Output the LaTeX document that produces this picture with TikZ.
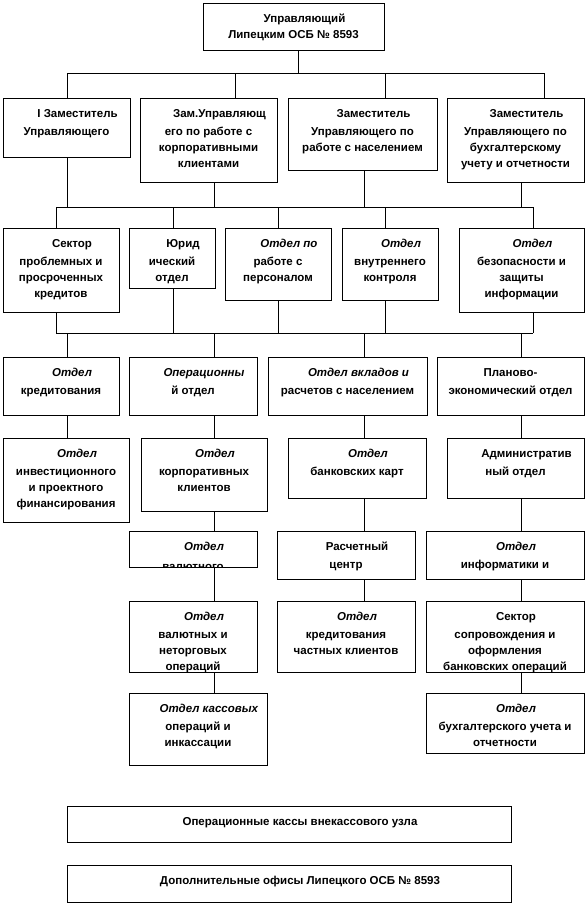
\documentclass[tikz,border=0pt]{standalone}
\usepackage{fontspec}
\setmainfont{Liberation Sans}
\usetikzlibrary{calc}
\tikzset{
  orgbox/.style={draw, line width=0.9pt, anchor=north west, inner sep=0pt, outer sep=0pt},
  orgtxt/.style={inner sep=0pt, anchor=north, align=center, font=\fontsize{11.5}{16}\selectfont\bfseries},
  link/.style={line width=0.9pt},
}
\newcommand{\fli}{\hspace*{22pt}}
\newcommand{\obox}[6]{%
  \node[orgbox, minimum width={#4-#2}, minimum height={#5-#3}] (#1) at (#2,#3) {};
  \begin{scope}
    \clip (#1.south west) rectangle (#1.north east);
    \node[orgtxt] (#1t) at ([yshift=-11pt]#1.north) {#6};
  \end{scope}}
\begin{document}
\begin{tikzpicture}[x=1pt,y=-1pt]
\useasboundingbox (0,0) rectangle (587,905);
% level 1
\obox{T}{203}{3}{384}{50}{\fli Управляющий\\Липецким ОСБ № 8593}
% level 2
\obox{A1}{3}{98}{130}{157}{\fli I Заместитель\\[2pt]Управляющего}
\obox{A2}{140}{98}{277}{182}{\fli Зам.Управляющ\\[2pt]его по работе с\\корпоративными\\клиентами}
\obox{A3}{288}{98}{437}{170}{\fli Заместитель\\[2pt]Управляющего по\\работе с населением}
\obox{A4}{447}{98}{584}{182}{\fli Заместитель\\[2pt]Управляющего по\\бухгалтерскому\\учету и отчетности}
% level 3
\obox{B1}{3}{228}{119}{312}{\fli Сектор\\[2pt]проблемных и\\просроченных\\кредитов}
\obox{B2}{129}{228}{215}{288}{\fli Юрид\\[2pt]ический\\отдел}
\obox{B3}{225}{228}{331}{300}{\fli\textit{Отдел по}\\[2pt]работе с\\персоналом}
\obox{B4}{342}{228}{438}{300}{\fli\textit{Отдел}\\[2pt]внутреннего\\контроля}
\obox{B5}{459}{228}{584}{312}{\fli\textit{Отдел}\\[2pt]безопасности и\\защиты\\информации}
% level 4
\obox{C1}{3}{357}{119}{415}{\fli\textit{Отдел}\\[2pt]кредитования}
\obox{C2}{129}{357}{257}{415}{\fli\textit{Операционны}\\[2pt]й отдел}
\obox{C3}{268}{357}{427}{415}{\fli\textit{Отдел вкладов и}\\[2pt]расчетов с населением}
\obox{C4}{437}{357}{584}{415}{Планово-\\[2pt]экономический отдел}
% level 5
\obox{D1}{3}{438}{129}{522}{\fli\textit{Отдел}\\[2pt]инвестиционного\\и проектного\\финансирования}
\obox{D2}{141}{438}{267}{511}{\fli\textit{Отдел}\\[2pt]корпоративных\\клиентов}
\obox{D3}{288}{438}{426}{498}{\fli\textit{Отдел}\\[2pt]банковских карт}
\obox{D4}{447}{438}{584}{498}{\fli Административ\\[2pt]ный отдел}
% level 6
\obox{E2}{129}{531}{257}{567}{\fli\textit{Отдел}\\[4pt]валютного\\контроля}
\obox{E3}{277}{531}{415}{579}{\fli Расчетный\\[2pt]центр}
\obox{E4}{426}{531}{584}{579}{\fli\textit{Отдел}\\[2pt]информатики и}
% level 7
\obox{F2}{129}{601}{257}{672}{\fli\textit{Отдел}\\[2pt]валютных и\\неторговых\\операций}
\obox{F3}{277}{601}{415}{672}{\fli\textit{Отдел}\\[2pt]кредитования\\частных клиентов}
\obox{F4}{426}{601}{584}{672}{\fli Сектор\\[2pt]сопровождения и\\оформления\\банковских операций}
% level 8
\obox{G2}{129}{693}{267}{765}{\fli\textit{Отдел кассовых}\\[2pt]операций и\\инкассации}
\obox{G4}{426}{693}{584}{753}{\fli\textit{Отдел}\\[2pt]бухгалтерского учета и\\отчетности}
% bottom
\obox{H1}{67}{806}{511}{842}{\fli Операционные кассы внекассового узла}
\obox{H2}{67}{865}{511}{902}{\fli Дополнительные офисы Липецкого ОСБ № 8593}

% bus coordinates
\coordinate (stem) at (298,73);
\coordinate (bus1L) at (67,73);
\coordinate (bus1R) at (544,73);
\coordinate (d2) at (235,73);
\coordinate (d3) at (385,73);
\coordinate (bus2L) at (56,207);
\coordinate (bus2R) at (533,207);
\coordinate (bus3L) at (56,333);
\coordinate (bus3R) at (533,333);
\coordinate (k1) at (67,0);
\coordinate (k2) at (214,0);
\coordinate (k3) at (364,0);
\coordinate (k4) at (521,0);
\coordinate (m1) at (56,0);
\coordinate (m2) at (173,0);
\coordinate (m3) at (278,0);
\coordinate (m4) at (385,0);
\coordinate (m5) at (533,0);

% level 1 -> 2
\draw[link] (T.south -| stem) -- (stem);
\draw[link] (bus1L) -- (bus1R);
\draw[link] (bus1L) -- (A1.north -| bus1L);
\draw[link] (d2) -- (A2.north -| d2);
\draw[link] (d3) -- (A3.north -| d3);
\draw[link] (bus1R) -- (A4.north -| bus1R);
% level 2 -> bus 2
\draw[link] (A1.south -| k1) -- (k1 |- bus2L);
\draw[link] (A2.south -| k2) -- (k2 |- bus2L);
\draw[link] (A3.south -| k3) -- (k3 |- bus2L);
\draw[link] (A4.south -| k4) -- (k4 |- bus2L);
\draw[link] (bus2L) -- (bus2R);
% bus 2 -> level 3
\draw[link] (m1 |- bus2L) -- (B1.north -| m1);
\draw[link] (m2 |- bus2L) -- (B2.north -| m2);
\draw[link] (m3 |- bus2L) -- (B3.north -| m3);
\draw[link] (m4 |- bus2L) -- (B4.north -| m4);
\draw[link] (m5 |- bus2L) -- (B5.north -| m5);
% level 3 -> bus 3
\draw[link] (B1.south -| m1) -- (m1 |- bus3L);
\draw[link] (B2.south -| m2) -- (m2 |- bus3L);
\draw[link] (B3.south -| m3) -- (m3 |- bus3L);
\draw[link] (B4.south -| m4) -- (m4 |- bus3L);
\draw[link] (B5.south -| m5) -- (m5 |- bus3L);
\draw[link] (bus3L) -- (bus3R);
% bus 3 -> level 4
\draw[link] (k1 |- bus3L) -- (C1.north -| k1);
\draw[link] (k2 |- bus3L) -- (C2.north -| k2);
\draw[link] (k3 |- bus3L) -- (C3.north -| k3);
\draw[link] (k4 |- bus3L) -- (C4.north -| k4);
% level 4 -> 5
\draw[link] (C1.south -| k1) -- (D1.north -| k1);
\draw[link] (C2.south -| k2) -- (D2.north -| k2);
\draw[link] (C3.south -| k3) -- (D3.north -| k3);
\draw[link] (C4.south -| k4) -- (D4.north -| k4);
% level 5 -> 6
\draw[link] (D2.south -| k2) -- (E2.north -| k2);
\draw[link] (D3.south -| k3) -- (E3.north -| k3);
\draw[link] (D4.south -| k4) -- (E4.north -| k4);
% level 6 -> 7
\draw[link] (E2.south -| k2) -- (F2.north -| k2);
\draw[link] (E3.south -| k3) -- (F3.north -| k3);
\draw[link] (E4.south -| k4) -- (F4.north -| k4);
% level 7 -> 8
\draw[link] (F2.south -| k2) -- (G2.north -| k2);
\draw[link] (F4.south -| k4) -- (G4.north -| k4);
\end{tikzpicture}
\end{document}
